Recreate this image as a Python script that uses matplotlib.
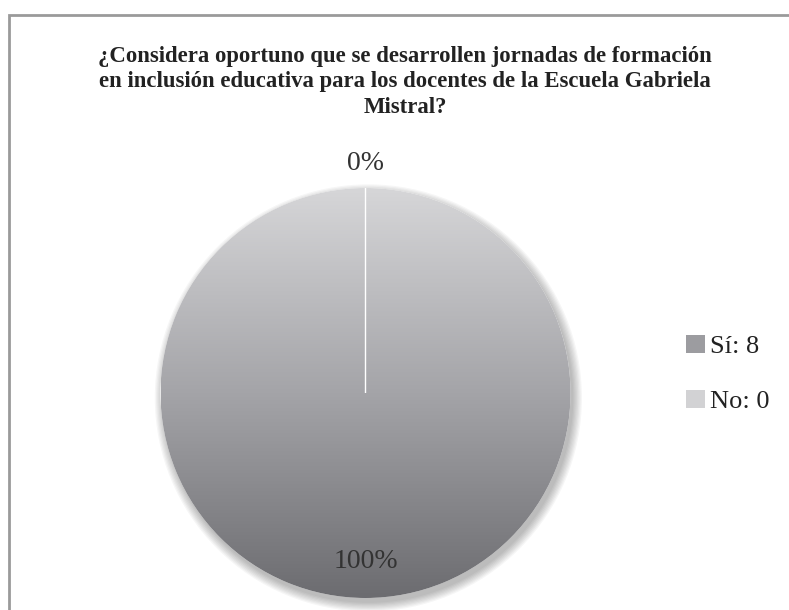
import matplotlib.pyplot as plt
import numpy as np
from matplotlib.colors import LinearSegmentedColormap
from matplotlib.patches import Circle, Patch, Rectangle

title = ("¿Considera oportuno que se desarrollen jornadas de formación\n"
         "en inclusión educativa para los docentes de la Escuela Gabriela\n"
         "Mistral?")
labels = ["Sí", "No"]
counts = [8, 0]
legend_colors = ["#9c9ca0", "#d2d2d4"]

SERIF = ["Liberation Serif", "DejaVu Serif"]
W, H = 789, 610

fig = plt.figure(figsize=(W / 100, H / 100), dpi=100)

# chart frame (cropped on right / bottom in the original)
fig.patches.append(Rectangle((9 / W, -0.1), 1.2, 1 - 15 / H + 0.1, transform=fig.transFigure,
                             fill=False, edgecolor="#9a9a9a", linewidth=2))

fig.text(405 / W, 1 - 46 / H, title, ha="center", va="top", fontsize=16.4,
         fontweight="bold", family=SERIF, color="#222222", linespacing=1.28)

# pie axes: 1 data unit = 205 px, centre at (365.5, 393) px
r_px = 205
lim = 1.3
size = 2 * lim * r_px
cx, cy = 365.5, 393
ax = fig.add_axes([(cx - size / 2) / W, (H - cy - size / 2) / H, size / W, size / H])

wedges, texts, autotexts = ax.pie(
    counts, startangle=90, counterclock=False, autopct="%1.0f%%", pctdistance=0.82,
    colors=["none", "none"], wedgeprops=dict(linewidth=0),
    textprops=dict(fontsize=20, family=SERIF, color="#333333"),
)
ax.set_xlim(-lim, lim)
ax.set_ylim(-lim, lim)
ax.set_aspect("equal")
ax.axis("off")

# soft shadow below the pie
for i in range(8):
    ax.add_patch(Circle((0.014, -0.024), 1.0 + 0.006 * i, facecolor="#000000",
                        alpha=0.035, edgecolor="none", zorder=0))
ax.add_patch(Circle((0, 0), 1.0, facecolor="white", edgecolor="none", zorder=0.5))

# vertical gradient fill for the "Sí" slice
grad = LinearSegmentedColormap.from_list("g", ["#6c6c70", "#a4a4a8", "#d6d6d8"])
img = ax.imshow(np.linspace(0, 1, 256).reshape(-1, 1), cmap=grad, origin="lower",
                extent=(-1, 1, -1, 1), aspect="auto", zorder=1)
img.set_clip_path(wedges[0])

# zero-size slice gives the thin white radial line
wedges[1].set_edgecolor("white")
wedges[1].set_linewidth(1.0)
wedges[1].set_zorder(2)

for w, t in zip(wedges, autotexts):
    t.set_zorder(3)
    if w.theta2 - w.theta1 < 1:
        ang = np.deg2rad((w.theta1 + w.theta2) / 2)
        t.set_position((1.12 * np.cos(ang), 1.12 * np.sin(ang)))

handles = [Patch(facecolor=c, edgecolor="none") for c in legend_colors]
leg_labels = [f"{l}: {n}" for l, n in zip(labels, counts)]
fig.legend(handles, leg_labels, loc="center left", bbox_to_anchor=(673 / W, 1 - 374 / H),
           frameon=False, prop=dict(family=SERIF, size=19), handlelength=0.7,
           handleheight=0.7, handletextpad=0.2, labelspacing=1.2, borderpad=0,
           labelcolor="#222222")

fig.savefig("out.png", dpi=100, facecolor="white")
